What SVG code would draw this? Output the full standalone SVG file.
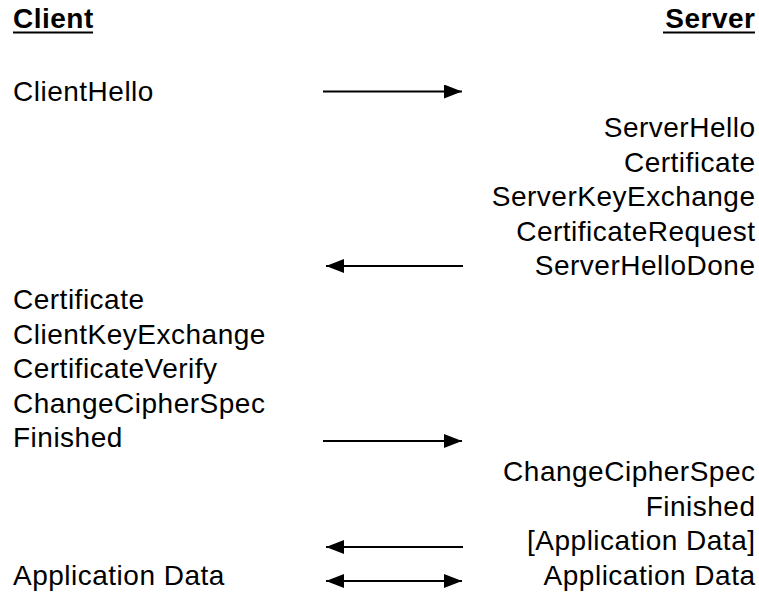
<svg xmlns="http://www.w3.org/2000/svg" width="759" height="599" viewBox="0 0 759 599">
<style>
text{font-family:"Liberation Sans",Arial,sans-serif;font-size:28px;letter-spacing:0.5px;fill:#000}
.h{font-weight:bold}
.r{text-anchor:end}
.ln{stroke:#000;stroke-width:2;fill:none}
</style>
<defs>
<marker id="ah" markerUnits="userSpaceOnUse" markerWidth="18" markerHeight="14" refX="18" refY="7" orient="auto-start-reverse">
<path d="M0,0 L18,7 L0,14 Z" fill="#000"/>
</marker>
</defs>
<rect width="759" height="599" fill="#fff"/>
<g id="client-header"><text class="h" x="13" y="28">Client</text><line class="ln" x1="13" y1="32.5" x2="93" y2="32.5"/></g>
<g id="server-header"><text class="h r" x="755.5" y="28">Server</text><line class="ln" x1="663" y1="32.5" x2="755" y2="32.5"/></g>
<g id="client-hello"><text x="13" y="101">ClientHello</text></g>
<g id="server-msgs1">
<text class="r" x="755.5" y="137">ServerHello</text>
<text class="r" x="755.5" y="171.5">Certificate</text>
<text class="r" x="755.5" y="206">ServerKeyExchange</text>
<text class="r" x="755.5" y="240.5">CertificateRequest</text>
<text class="r" x="755.5" y="275">ServerHelloDone</text>
</g>
<g id="client-msgs">
<text x="13" y="309">Certificate</text>
<text x="13" y="343.5">ClientKeyExchange</text>
<text x="13" y="378">CertificateVerify</text>
<text x="13" y="412.5">ChangeCipherSpec</text>
<text x="13" y="447">Finished</text>
</g>
<g id="server-msgs2">
<text class="r" x="755.5" y="481">ChangeCipherSpec</text>
<text class="r" x="755.5" y="515.5">Finished</text>
<text class="r" x="755.5" y="550">[Application Data]</text>
</g>
<g id="app-data-client"><text x="13" y="585">Application Data</text></g>
<g id="app-data-server"><text class="r" x="755.5" y="585">Application Data</text></g>
<g id="connectors">
<line class="ln" x1="323" y1="91.5" x2="462" y2="91.5" marker-end="url(#ah)"/>
<line class="ln" x1="463" y1="266" x2="326" y2="266" marker-end="url(#ah)"/>
<line class="ln" x1="323" y1="441" x2="462" y2="441" marker-end="url(#ah)"/>
<line class="ln" x1="463" y1="547" x2="326" y2="547" marker-end="url(#ah)"/>
<line class="ln" x1="326" y1="581" x2="462" y2="581" marker-start="url(#ah)" marker-end="url(#ah)"/>
</g>
</svg>
